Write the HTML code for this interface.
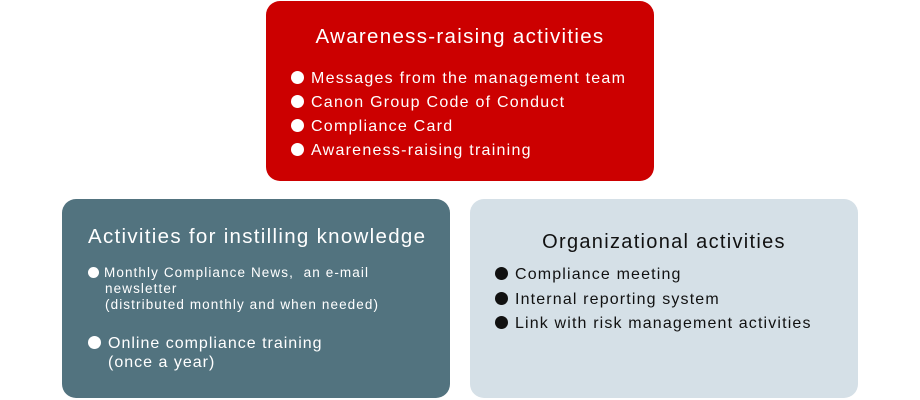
<!DOCTYPE html>
<html><head><meta charset="utf-8"><style>
body{margin:0;width:920px;height:400px;background:#fff;font-family:"Liberation Sans",sans-serif;position:relative;overflow:hidden}
.b{position:absolute;border-radius:14px}
.t{position:absolute;white-space:nowrap;line-height:1}
.d{display:inline-block;width:13px;height:13px;border-radius:50%;background:currentColor;margin-right:7px;vertical-align:-1px}
.s{width:11px;height:11px;margin-right:5px}
</style></head><body>
<div class="b" style="left:266px;top:1px;width:388px;height:180px;background:#cc0000"></div>
<div class="b" style="left:62px;top:199px;width:388px;height:199px;background:#52737f"></div>
<div class="b" style="left:470px;top:199px;width:388px;height:199px;background:#d5e0e7"></div>

<div class="t" style="left:266px;width:388px;text-align:center;top:27px;font-size:20.5px;letter-spacing:1.3px;color:#fff">Awareness-raising activities</div>
<div class="t" style="left:291px;top:67px;font-size:16px;letter-spacing:1.25px;color:#fff;line-height:24px"><span class="d"></span>Messages from the management team<br><span class="d"></span>Canon Group Code of Conduct<br><span class="d"></span>Compliance Card<br><span class="d"></span>Awareness-raising training</div>

<div class="t" style="left:88px;top:227px;font-size:20.5px;letter-spacing:1.3px;color:#fff">Activities for instilling knowledge</div>
<div class="t" style="left:88px;top:265px;font-size:13.5px;letter-spacing:1.1px;color:#fff;line-height:16px"><span class="d s"></span>Monthly Compliance News,&nbsp; an e-mail<br><span style="padding-left:17px">newsletter</span><br><span style="padding-left:17px">(distributed monthly and when needed)</span></div>
<div class="t" style="left:88px;top:334px;font-size:16px;letter-spacing:1px;color:#fff;line-height:19px"><span class="d"></span>Online compliance training<br><span style="padding-left:20px">(once a year)</span></div>

<div class="t" style="left:470px;width:388px;text-align:center;top:232px;font-size:20px;letter-spacing:1.3px;color:#111">Organizational activities</div>
<div class="t" style="left:495px;top:263px;font-size:16px;letter-spacing:1.15px;color:#111;line-height:24.5px"><span class="d"></span>Compliance meeting<br><span class="d"></span>Internal reporting system<br><span class="d"></span>Link with risk management activities</div>
</body></html>
